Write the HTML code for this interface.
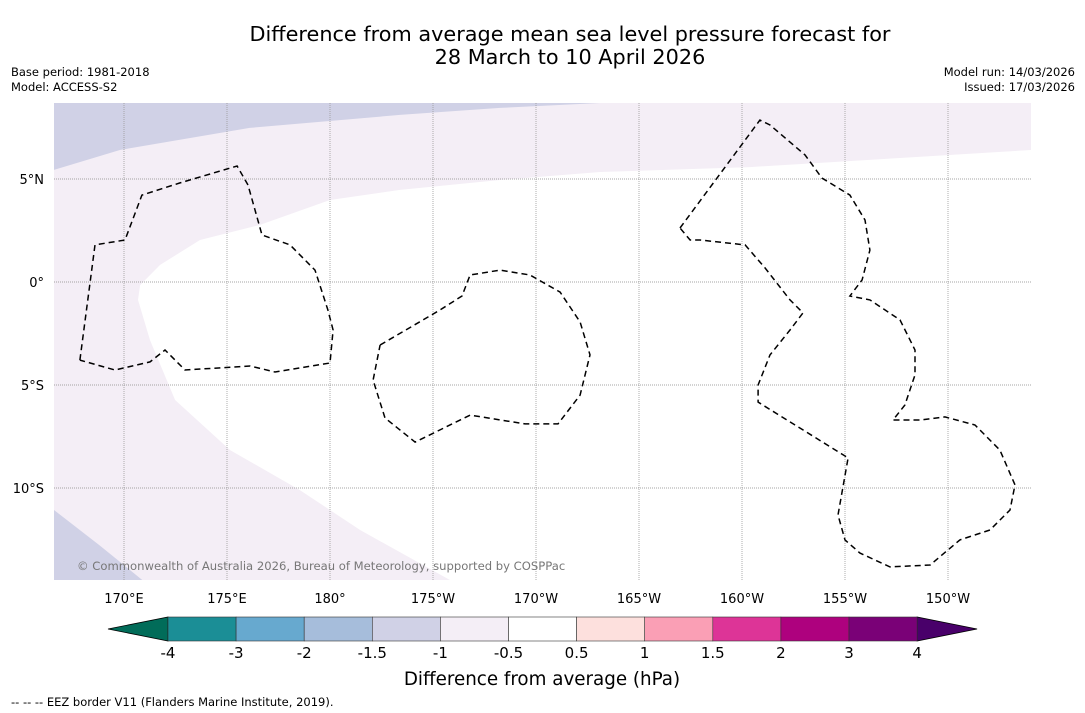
<!DOCTYPE html>
<html><head><meta charset="utf-8">
<style>
body{margin:0;background:#fff;width:1085px;height:713px;overflow:hidden;font-family:"DejaVu Sans","Liberation Sans",sans-serif;}
svg{position:absolute;left:0;top:0;}
</style></head>
<body>
<svg id="chart" width="1085" height="713">
<text x="570" y="41" font-size="20.8" text-anchor="middle" fill="#000">Difference from average mean sea level pressure forecast for</text>
<text x="570" y="64" font-size="20.8" text-anchor="middle" fill="#000">28 March to 10 April 2026</text>
<text x="11" y="76" font-size="11.5">Base period: 1981-2018</text>
<text x="11" y="91" font-size="11.5">Model: ACCESS-S2</text>
<text x="1075" y="76" font-size="11.5" text-anchor="end">Model run: 14/03/2026</text>
<text x="1075" y="91" font-size="11.5" text-anchor="end">Issued: 17/03/2026</text>
<defs><clipPath id="pc"><rect x="54" y="103" width="977" height="477"/></clipPath></defs>
<g id="map" clip-path="url(#pc)">
<rect x="54" y="103" width="977" height="477" fill="#f4eef6"/>
</g>
<g id="axes"></g>
<g id="cbar"></g>
<text x="542" y="685" font-size="18.3" text-anchor="middle">Difference from average (hPa)</text>
<text x="11" y="706" font-size="11.5">--  --  -- EEZ border V11 (Flanders Marine Institute, 2019).</text>
</svg>
<script>
// Map axes
const lonTicks=[170,175,180,185,190,195,200,205,210];
const lonLabels=["170°E","175°E","180°","175°W","170°W","165°W","160°W","155°W","150°W"];
const latTicks=[5,0,-5,-10];
const latLabels=["5°N","0°","5°S","10°S"];
// Shading regions (lon east-positive 0-360, lat)
const whiteRegion=[[214.03,6.41],[207.67,6.02],[200.39,5.58],[193.11,5.34],[188.25,4.95],[183.4,4.47],[180,3.98],[176.6,2.77],[173.69,2.04],[171.75,0.83],[170.78,-0.15],[170.68,-0.87],[171.26,-2.82],[172.48,-5.73],[175.15,-8.16],[178.54,-10.1],[181.46,-12.04],[185.83,-14.47],[186.5,-16],[216,-16],[216,6.41]];
const blueTop=[[166.6,5.44],[169.8,6.41],[176.1,7.48],[183.4,8.11],[188.25,8.45],[194.1,8.74],[194.1,10],[165,10],[165,5.44]];
const blueBottom=[[166.6,-11.07],[168.8,-12.77],[171.0,-14.56],[171.5,-16],[165,-16],[165,-11.07]];
// EEZ borders
const eezGilbert=[[167.86,-3.79],[168.59,1.8],[170.05,2.04],[170.87,4.22],[172.72,4.81],[175.49,5.63],[176.02,4.71],[176.7,2.28],[178.06,1.8],[179.27,0.58],[179.9,-1.36],[180.15,-2.33],[180.0,-3.93],[177.33,-4.37],[176.12,-4.08],[172.96,-4.27],[171.99,-3.3],[171.26,-3.88],[169.56,-4.27],[167.86,-3.79]];
const eezPhoenix=[[182.43,-3.06],[185.34,-1.36],[186.41,-0.68],[186.8,0.34],[188.25,0.58],[189.71,0.34],[191.17,-0.49],[192.14,-1.94],[192.62,-3.54],[192.14,-5.49],[191.07,-6.89],[189.47,-6.89],[186.8,-6.46],[184.13,-7.77],[182.67,-6.6],[182.09,-4.76],[182.43,-3.06]];
const eezLine=[[196.99,2.62],[200.87,7.86],[201.36,7.62],[203.06,6.17],[203.88,5.05],[205.24,4.22],[205.97,3.01],[206.21,1.55],[205.83,0.1],[205.24,-0.68],[206.21,-0.87],[207.67,-1.84],[208.4,-3.3],[208.4,-4.51],[207.91,-5.97],[207.33,-6.7],[208.64,-6.7],[209.85,-6.55],[211.31,-6.94],[212.52,-8.16],[213.25,-9.85],[213.01,-11.07],[212.04,-12.04],[210.58,-12.52],[209.13,-13.74],[207.18,-13.83],[205.73,-13.16],[205.0,-12.52],[204.66,-11.31],[205.15,-8.54],[200.78,-5.83],[200.78,-5.0],[201.36,-3.54],[202.33,-2.33],[202.96,-1.5],[202.33,-0.87],[201.12,0.68],[200.15,1.8],[197.96,2.04],[197.48,2.04],[196.99,2.62]];
// Colorbar
const cbLevels=["-4","-3","-2","-1.5","-1","-0.5","0.5","1","1.5","2","3","4"];
const cbColors=["#1b8e96","#67a9cf","#a6bddb","#d0d1e6","#f4eef6","#ffffff","#fde0dd","#fa9fb5","#dd3497","#ae017e","#7a0177"];
const cbUnder="#016c59", cbOver="#49006a";

const NS="http://www.w3.org/2000/svg";
const X=lon=>124+(lon-170)*20.6;
const Y=lat=>282-lat*20.6;
function mk(tag,attrs,parent){const e=document.createElementNS(NS,tag);for(const k in attrs)e.setAttribute(k,attrs[k]);parent.appendChild(e);return e;}
const map=document.getElementById('map');
const pts=a=>a.map(p=>X(p[0]).toFixed(1)+','+Y(p[1]).toFixed(1)).join(' ');
let e;
e=mk('polygon',{points:pts(blueTop),fill:'#d0d1e6'},map);


e=mk('polygon',{points:pts(blueBottom),fill:'#d0d1e6'},map);


e=mk('polygon',{points:pts(whiteRegion),fill:'#ffffff'},map);


lonTicks.forEach((l,i)=>{
 e=mk('line',{x1:X(l),x2:X(l),y1:103,y2:580,stroke:'#999','stroke-width':0.8,'stroke-dasharray':'1,1'},map);
 
 
});
latTicks.forEach(l=>{
 e=mk('line',{x1:54,x2:1031,y1:Y(l),y2:Y(l),stroke:'#888','stroke-width':0.8,'stroke-dasharray':'1,1'},map);
 
 
});
[[eezGilbert,'eez-gilbert'],[eezPhoenix,'eez-phoenix'],[eezLine,'eez-line-islands']].forEach(([a,n])=>{
 e=mk('polyline',{points:pts(a),fill:'none',stroke:'#000','stroke-width':1.5,'stroke-dasharray':'6,4'},map);
 
 
});
e=mk('text',{x:77,y:570,'font-size':11.6,fill:'#777'},map);
e.textContent='© Commonwealth of Australia 2026, Bureau of Meteorology, supported by COSPPac';


const ax=document.getElementById('axes');
lonTicks.forEach((l,i)=>{
 e=mk('text',{x:X(l),y:603,'font-size':13,'text-anchor':'middle'},ax);
 e.textContent=lonLabels[i];
 
 
});
latTicks.forEach((l,i)=>{
 e=mk('text',{x:44,y:Y(l)+5,'font-size':13,'text-anchor':'end'},ax);
 e.textContent=latLabels[i];
 
 
});
const cb=document.getElementById('cbar');
const cx0=168,cw=68.1,cy=617,ch=24;
e=mk('polygon',{points:`${cx0},${cy} ${cx0},${cy+ch} 108,${cy+ch/2}`,fill:cbUnder,stroke:'#000','stroke-width':0.8},cb);


const cEnd=cx0+cw*cbColors.length;
e=mk('polygon',{points:`${cEnd},${cy} ${cEnd},${cy+ch} ${cEnd+60},${cy+ch/2}`,fill:cbOver,stroke:'#000','stroke-width':0.8},cb);


cbColors.forEach((c,i)=>{
 e=mk('rect',{x:cx0+i*cw,y:cy,width:cw,height:ch,fill:c,stroke:'#333','stroke-width':0.6},cb);
 
 
});
cbLevels.forEach((t,i)=>{
 e=mk('text',{x:cx0+i*cw,y:658,'font-size':15,'text-anchor':'middle'},cb);
 e.textContent=t;
 
 
});
</script>
</body></html>
